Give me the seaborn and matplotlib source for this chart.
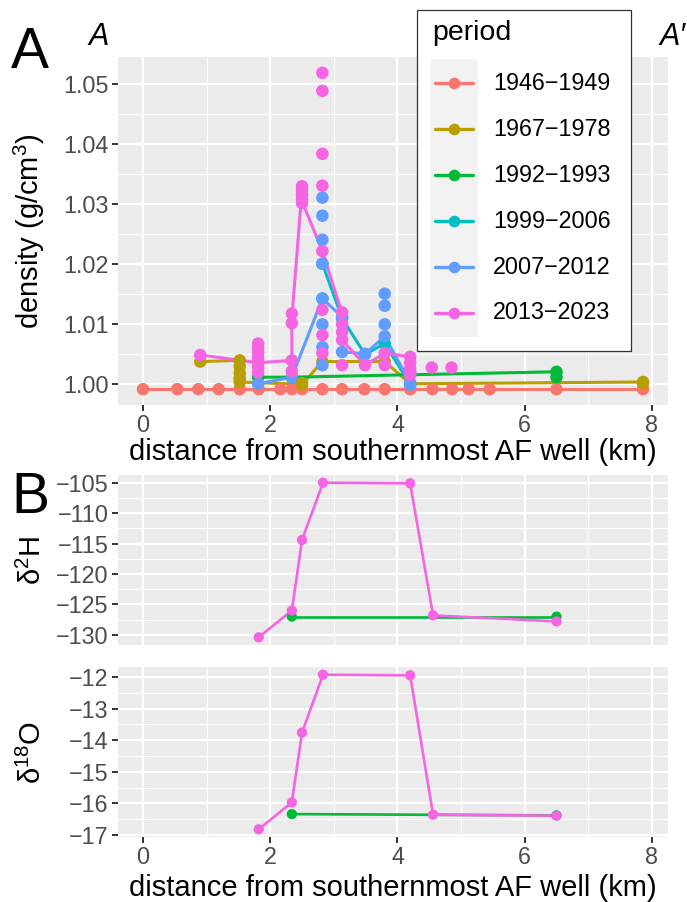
import numpy as np
import pandas as pd
import matplotlib
matplotlib.use("Agg")
import matplotlib.pyplot as plt
import seaborn as sns
from matplotlib.lines import Line2D
from matplotlib.patches import Rectangle
from matplotlib.ticker import FixedLocator

# ---------------- data ----------------
periods = ["1946−1949", "1967−1978", "1992−1993", "1999−2006", "2007−2012", "2013−2023"]
colors = ["#F8766D", "#B79F00", "#00BA38", "#00BFC4", "#619CFF", "#F564E3"]

# panel A points (distance km, density g/cm3)
pts_1946_dist = [0.00, 0.54, 0.87, 1.19, 1.52, 1.82, 2.16, 2.34, 2.50, 2.82, 3.13, 3.48, 3.80, 4.20, 4.55, 4.86, 5.12, 5.45, 6.50, 7.86]
pts_1946_dens = [0.9992, 0.9992, 0.9992, 0.9992, 0.9992, 0.9992, 0.9992, 0.9992, 0.9992, 0.9992, 0.9992, 0.9992, 0.9992, 0.9992, 0.9992, 0.9992, 0.9992, 0.9992, 0.9992, 0.9992]

pts_1967_dist = [0.90, 1.52, 1.52, 1.52, 1.52, 1.52, 2.50, 2.50, 2.82, 3.80, 4.20, 7.86, 7.86]
pts_1967_dens = [1.0038, 1.0040, 1.0030, 1.0019, 1.0010, 1.0004, 1.0000, 1.0002, 1.0038, 1.0038, 1.0001, 1.0004, 1.0002]

pts_1992_dist = [1.81, 2.34, 6.50, 6.50]
pts_1992_dens = [1.0012, 1.0012, 1.0021, 1.0012]

pts_1999_dist = [2.82, 2.82, 3.13, 3.49, 3.80, 4.20]
pts_1999_dens = [1.0201, 1.0143, 1.0110, 1.0050, 1.0068, 1.0000]

pts_2007_dist = [1.81, 2.34, 2.82, 2.82, 2.82, 2.82, 2.82, 2.82, 2.82, 2.82, 3.13, 3.13, 3.49, 3.80, 3.80, 3.80, 3.80, 4.20, 4.20, 4.20]
pts_2007_dens = [1.0001, 1.0012, 1.0311, 1.0281, 1.0241, 1.0201, 1.0143, 1.0100, 1.0062, 1.0032, 1.0112, 1.0054, 1.0051, 1.0151, 1.0131, 1.0100, 1.0080, 1.0020, 1.0003, 1.0000]

pts_2013_dist = [0.90, 1.81, 1.81, 1.81, 1.81, 1.81, 1.81, 1.81, 2.34, 2.34, 2.34, 2.34,
                 2.50, 2.50, 2.50, 2.50, 2.50, 2.82, 2.82, 2.82, 2.82, 2.82, 2.82, 2.82, 2.82,
                 3.13, 3.13, 3.13, 3.13, 3.13, 3.49, 3.80, 3.80, 4.20, 4.20, 4.20, 4.20, 4.54, 4.85]
pts_2013_dens = [1.0049, 1.0068, 1.0060, 1.0052, 1.0044, 1.0036, 1.0028, 1.0020, 1.0118, 1.0102, 1.0040, 1.0022,
                 1.0330, 1.0323, 1.0316, 1.0309, 1.0302, 1.0519, 1.0489, 1.0384, 1.0331, 1.0222, 1.0124, 1.0082, 1.0052,
                 1.0120, 1.0100, 1.0087, 1.0074, 1.0032, 1.0032, 1.0052, 1.0032, 1.0046, 1.0036, 1.0026, 1.0016, 1.0028, 1.0028]

# panel A connecting lines
line_1946_dist = pts_1946_dist
line_1946_dens = pts_1946_dens
line_1967_dist = [0.90, 1.52, 1.52, 2.50, 2.82, 3.80, 4.20, 7.86]
line_1967_dens = [1.0038, 1.0040, 1.0004, 1.0000, 1.0038, 1.0038, 1.0001, 1.0004]
line_1992_dist = [1.81, 2.34, 6.50, 6.50]
line_1992_dens = [1.0012, 1.0012, 1.0021, 1.0012]
line_1999_dist = [2.82, 3.13, 3.49, 3.80, 4.20]
line_1999_dens = [1.0201, 1.0110, 1.0050, 1.0068, 1.0000]
line_2007_dist = [1.81, 2.34, 2.82, 3.13, 3.13, 3.49, 3.80, 4.20]
line_2007_dens = [1.0001, 1.0012, 1.0143, 1.0112, 1.0054, 1.0051, 1.0080, 1.0003]
line_2013_dist = [0.90, 1.81, 2.34, 2.34, 2.50, 2.50, 2.82, 3.13, 3.13, 3.49, 3.80, 4.20]
line_2013_dens = [1.0049, 1.0036, 1.0040, 1.0110, 1.0325, 1.0305, 1.0222, 1.0118, 1.0074, 1.0032, 1.0052, 1.0046]

# panel B isotopes
iso_1992_dist = [2.34, 6.50]
iso_1992_d2H = [-127.0, -127.0]
iso_1992_d18O = [-16.34, -16.38]
iso_2013_dist = [1.82, 2.34, 2.50, 2.83, 4.20, 4.56, 6.50]
iso_2013_d2H = [-130.4, -126.0, -114.4, -105.0, -105.1, -126.8, -127.8]
iso_2013_d18O = [-16.82, -15.97, -13.76, -11.93, -11.95, -16.36, -16.39]

x_ticks = [0, 2, 4, 6, 8]
dens_ticks = [1.00, 1.01, 1.02, 1.03, 1.04, 1.05]
d2H_ticks = [-130, -125, -120, -115, -110, -105]
d18O_ticks = [-17, -16, -15, -14, -13, -12]

# ---------------- frames ----------------
pt_sets = [(pts_1946_dist, pts_1946_dens), (pts_1967_dist, pts_1967_dens), (pts_1992_dist, pts_1992_dens),
           (pts_1999_dist, pts_1999_dens), (pts_2007_dist, pts_2007_dens), (pts_2013_dist, pts_2013_dens)]
ln_sets = [(line_1946_dist, line_1946_dens), (line_1967_dist, line_1967_dens), (line_1992_dist, line_1992_dens),
           (line_1999_dist, line_1999_dens), (line_2007_dist, line_2007_dens), (line_2013_dist, line_2013_dens)]

dfA_pts = pd.concat([pd.DataFrame({"dist": d, "density": v, "period": p}) for (d, v), p in zip(pt_sets, periods)], ignore_index=True)
dfA_ln = pd.concat([pd.DataFrame({"dist": d, "density": v, "period": p}) for (d, v), p in zip(ln_sets, periods)], ignore_index=True)
dfB = pd.concat([
    pd.DataFrame({"dist": iso_1992_dist, "d2H": iso_1992_d2H, "d18O": iso_1992_d18O, "period": periods[2]}),
    pd.DataFrame({"dist": iso_2013_dist, "d2H": iso_2013_d2H, "d18O": iso_2013_d18O, "period": periods[5]}),
], ignore_index=True)

pal = dict(zip(periods, colors))

# ---------------- style ----------------
sns.set_theme(style="darkgrid")
plt.rcParams["font.family"] = ["Liberation Sans", "DejaVu Sans"]
plt.rcParams["mathtext.fontset"] = "custom"
plt.rcParams["mathtext.rm"] = "Liberation Sans"
plt.rcParams["mathtext.it"] = "Liberation Sans:italic"
plt.rcParams["axes.unicode_minus"] = True

W, H = 687, 902
fig = plt.figure(figsize=(W / 100, H / 100), dpi=100)
fig.patch.set_facecolor("white")


def ax_at(left, top, right, bottom):
    return fig.add_axes([left / W, 1 - bottom / H, (right - left) / W, (bottom - top) / H])


axA = ax_at(118, 57, 668, 405)
axB1 = ax_at(118, 475, 668, 645)
axB2 = ax_at(118, 667, 668, 837)

TICK_FS = 16.8
TITLE_FS = 21


def style(ax):
    ax.set_facecolor("#EBEBEB")
    for s in ax.spines.values():
        s.set_visible(False)
    ax.grid(True, which="major", color="white", lw=1.6)
    ax.grid(True, which="minor", color="white", lw=0.8)
    ax.set_axisbelow(True)
    ax.tick_params(which="major", length=4.3, width=1.4, color="#333333",
                   labelcolor="#4D4D4D", labelsize=TICK_FS, pad=2.5,
                   left=True, bottom=True)
    ax.tick_params(which="minor", length=0)


# ---- panel A ----
sns.lineplot(data=dfA_ln, x="dist", y="density", hue="period", hue_order=periods, palette=pal,
             sort=False, estimator=None, lw=2.2, legend=False, ax=axA, zorder=2)
sns.scatterplot(data=dfA_pts, x="dist", y="density", hue="period", hue_order=periods, palette=pal,
                s=81, linewidth=0, legend=False, ax=axA, zorder=3)

xmin, xmax = 0.0, max(pts_1946_dist)
xr = xmax - xmin
xl = (xmin - 0.05 * xr, xmax + 0.05 * xr)

ymin, ymax = min(pts_1946_dens), max(pts_2013_dens)
yr = ymax - ymin
axA.set_xlim(*xl)
axA.set_ylim(ymin - 0.05 * yr, ymax + 0.05 * yr)
axA.xaxis.set_major_locator(FixedLocator(x_ticks))
axA.xaxis.set_minor_locator(FixedLocator([1, 3, 5, 7]))
axA.yaxis.set_major_locator(FixedLocator(dens_ticks))
axA.yaxis.set_minor_locator(FixedLocator([1.005, 1.015, 1.025, 1.035, 1.045]))
axA.set_yticklabels([f"{t:.2f}" for t in dens_ticks])
axA.set_xticklabels([str(t) for t in x_ticks])
style(axA)
axA.set_xlabel("distance from southernmost AF well (km)", fontsize=TITLE_FS, color="black")
axA.set_ylabel("density (g/cm$^{3}$)", fontsize=TITLE_FS, color="black")
axA.xaxis.set_label_coords(0.5, (405 - 438) / 348)
axA.yaxis.set_label_coords((47 - 118) / 550, 0.5)

# ---- panel B ----
for ax, col, ticks, minors, lab in [
    (axB1, "d2H", d2H_ticks, [-127.5, -122.5, -117.5, -112.5, -107.5], "δ$^{2}$H"),
    (axB2, "d18O", d18O_ticks, [-16.5, -15.5, -14.5, -13.5, -12.5], "δ$^{18}$O"),
]:
    sns.lineplot(data=dfB, x="dist", y=col, hue="period", hue_order=[periods[2], periods[5]],
                 palette=pal, sort=False, estimator=None, lw=1.9, legend=False, ax=ax, zorder=2)
    sns.scatterplot(data=dfB, x="dist", y=col, hue="period", hue_order=[periods[2], periods[5]],
                    palette=pal, s=55, linewidth=0, legend=False, ax=ax, zorder=3)
    lo, hi = dfB[col].min(), dfB[col].max()
    r = hi - lo
    ax.set_xlim(*xl)
    ax.set_ylim(lo - 0.05 * r, hi + 0.05 * r)
    ax.xaxis.set_major_locator(FixedLocator(x_ticks))
    ax.xaxis.set_minor_locator(FixedLocator([1, 3, 5, 7]))
    ax.yaxis.set_major_locator(FixedLocator(ticks))
    ax.yaxis.set_minor_locator(FixedLocator(minors))
    style(ax)
    ax.set_ylabel(lab, fontsize=TITLE_FS, color="black")
    ax.yaxis.set_label_coords((47 - 118) / 550, 0.5)

axB1.set_xlabel("")
axB1.tick_params(axis="x", which="major", length=0, labelbottom=False)
axB2.set_xticklabels([str(t) for t in x_ticks])
axB2.set_xlabel("distance from southernmost AF well (km)", fontsize=TITLE_FS, color="black")
axB2.xaxis.set_label_coords(0.5, (837 - 874) / 170)

# ---------------- annotations ----------------
def fx(x):
    return x / W


def fy(y):
    return 1 - y / H


fig.text(fx(11), fy(68), "A", fontsize=41, va="baseline", ha="left", color="black")
fig.text(fx(11), fy(513), "B", fontsize=41, va="baseline", ha="left", color="black")
fig.text(fx(89), fy(45), "A", fontsize=22, style="italic", va="baseline", ha="left", color="black")
fig.text(fx(686), fy(45), "A′", fontsize=22, style="italic", va="baseline", ha="right", color="black")

# ---------------- legend ----------------
fig.patches.append(Rectangle((fx(417), fy(351)), (631 - 417) / W, (351 - 10) / H, transform=fig.transFigure,
                             facecolor="white", edgecolor="#333333", lw=0.9, zorder=10))
fig.patches.append(Rectangle((fx(431), fy(337)), (478 - 431) / W, (337 - 59) / H, transform=fig.transFigure,
                             facecolor="#F2F2F2", edgecolor="none", zorder=11))
fig.text(fx(432), fy(40), "period", fontsize=20.5, va="baseline", ha="left", color="black", zorder=12)
for i, (p, c) in enumerate(zip(periods, colors)):
    yy = 83 + 46 * i
    fig.lines.append(Line2D([fx(435), fx(454), fx(473)], [fy(yy)] * 3, transform=fig.transFigure,
                            color=c, lw=2.4, marker="o", markevery=[1], markersize=8.4,
                            markeredgewidth=0, zorder=12))
    fig.text(fx(493), fy(yy), p, fontsize=TICK_FS, va="center", ha="left", color="black", zorder=12)

fig.savefig("out.png", dpi=100)
